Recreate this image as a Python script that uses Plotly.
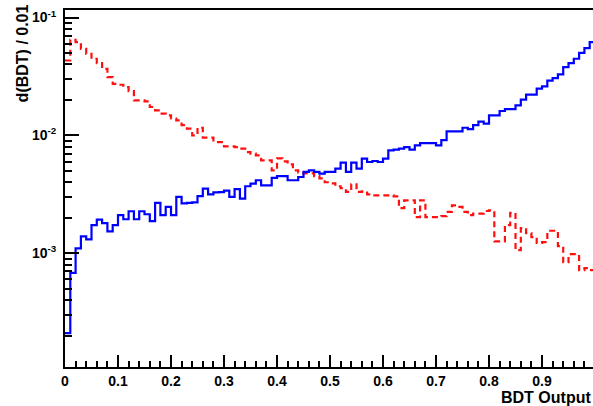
import numpy as np
import plotly.graph_objects as go

# Histogram: 100 bins of width 0.01 on [0, 1]
bin_lo = 0.0
bin_hi = 1.0
n_bins = 100

signal = [
    2.1e-4, 6.8e-4, 1.1e-3, 1.39e-3, 1.31e-3, 1.73e-3, 1.93e-3, 1.8e-3, 1.53e-3, 1.73e-3,
    2.1e-3, 1.94e-3, 2.27e-3, 1.94e-3, 2.27e-3, 2.14e-3, 1.87e-3, 2.67e-3, 2.1e-3, 2.47e-3,
    2.1e-3, 3.0e-3, 2.65e-3, 2.67e-3, 2.7e-3, 3.05e-3, 3.53e-3, 3.16e-3, 3.28e-3, 3.3e-3,
    3.4e-3, 3.0e-3, 3.5e-3, 2.9e-3, 3.7e-3, 3.9e-3, 4.16e-3, 3.77e-3, 3.77e-3, 4.35e-3,
    4.5e-3, 4.5e-3, 4.16e-3, 4.16e-3, 4.43e-3, 4.89e-3, 5.05e-3, 4.89e-3, 4.73e-3, 4.89e-3,
    4.89e-3, 5.22e-3, 5.87e-3, 4.89e-3, 5.87e-3, 5.22e-3, 6.35e-3, 5.94e-3, 6.06e-3, 5.94e-3,
    6.35e-3, 7.46e-3, 7.57e-3, 7.71e-3, 7.95e-3, 7.57e-3, 8.23e-3, 8.6e-3, 8.6e-3, 8.6e-3,
    8.23e-3, 9.1e-3, 1.08e-2, 1.08e-2, 1.08e-2, 1.16e-2, 1.13e-2, 1.22e-2, 1.31e-2, 1.26e-2,
    1.48e-2, 1.48e-2, 1.61e-2, 1.67e-2, 1.67e-2, 1.80e-2, 2.01e-2, 2.22e-2, 2.22e-2, 2.49e-2,
    2.60e-2, 2.92e-2, 3.06e-2, 3.29e-2, 3.79e-2, 4.10e-2, 4.47e-2, 5.02e-2, 5.50e-2, 6.18e-2,
]

background = [
    4.32e-2, 6.47e-2, 6.18e-2, 5.43e-2, 4.92e-2, 4.47e-2, 4.10e-2, 3.67e-2, 3.12e-2, 2.74e-2,
    2.69e-2, 2.57e-2, 2.37e-2, 1.98e-2, 1.98e-2, 1.94e-2, 1.74e-2, 1.63e-2, 1.53e-2, 1.48e-2,
    1.39e-2, 1.34e-2, 1.22e-2, 1.14e-2, 1.0e-2, 1.16e-2, 9.57e-3, 9.57e-3, 8.77e-3, 8.77e-3,
    8.07e-3, 8.07e-3, 7.95e-3, 7.71e-3, 7.22e-3, 7.0e-3, 6.77e-3, 6.14e-3, 6.14e-3, 5.05e-3,
    6.38e-3, 6.02e-3, 5.68e-3, 5.05e-3, 4.86e-3, 4.76e-3, 4.76e-3, 4.5e-3, 4.32e-3, 4.0e-3,
    3.92e-3, 3.70e-3, 3.56e-3, 3.31e-3, 3.84e-3, 3.31e-3, 3.35e-3, 3.16e-3, 3.1e-3, 3.1e-3,
    3.1e-3, 3.1e-3, 3.04e-3, 2.41e-3, 2.81e-3, 2.81e-3, 2.02e-3, 2.81e-3, 2.02e-3, 2.02e-3,
    2.02e-3, 2.06e-3, 2.24e-3, 2.55e-3, 2.47e-3, 2.24e-3, 2.10e-3, 2.17e-3, 2.17e-3, 2.28e-3,
    2.31e-3, 1.26e-3, 1.26e-3, 1.73e-3, 2.2e-3, 1.06e-3, 1.63e-3, 1.48e-3, 1.37e-3, 1.22e-3,
    1.24e-3, 1.55e-3, 1.55e-3, 1.15e-3, 8.39e-4, 9.8e-4, 9.8e-4, 7.18e-4, 7.46e-4, 7.18e-4,
]

y_tick_vals = [1e-3, 1e-2, 1e-1]
y_tick_text = ["10<sup>-3</sup>", "10<sup>-2</sup>", "10<sup>-1</sup>"]
y_minor_vals = [m * d for d in (1e-4, 1e-3, 1e-2) for m in range(2, 10)]

x_title = "BDT Output"
y_title = "d(BDT) / 0.01"

edges = np.linspace(bin_lo, bin_hi, n_bins + 1)


def step(vals):
    return list(edges), list(vals) + [vals[-1]]


FONT = "Liberation Sans, Arial, Helvetica, sans-serif"

fig = go.Figure()
xs, ys = step(background)
fig.add_trace(go.Scatter(x=xs, y=ys, mode="lines", line_shape="hv",
                         line=dict(color="#ff1010", width=2.2, dash="6px,4px"),
                         showlegend=False, hoverinfo="skip"))
xs, ys = step(signal)
fig.add_trace(go.Scatter(x=xs, y=ys, mode="lines", line_shape="hv",
                         line=dict(color="#0000ff", width=2.2),
                         showlegend=False, hoverinfo="skip"))

fig.update_layout(
    width=593, height=406,
    margin=dict(l=65, r=0, t=10, b=39),
    paper_bgcolor="white", plot_bgcolor="white",
    font=dict(family=FONT, color="black", size=14),
    xaxis=dict(
        range=[0, 0.9962], tick0=0, dtick=0.1,
        ticks="inside", ticklen=12, tickwidth=1.5, tickcolor="black",
        minor=dict(dtick=0.02, ticks="inside", ticklen=6, tickwidth=1.5, tickcolor="black", showgrid=False),
        showline=True, linecolor="black", linewidth=2, mirror=True,
        showgrid=False, zeroline=False,
        tickfont=dict(family=FONT, size=14, weight="bold", color="black"),
    ),
    yaxis=dict(
        type="log", range=[-3.966, -0.936],
        tickmode="array", tickvals=y_tick_vals, ticktext=y_tick_text,
        ticks="inside", ticklen=14, tickwidth=1.5, tickcolor="black",
        minor=dict(tickmode="array", tickvals=y_minor_vals, ticks="inside", ticklen=7,
                   tickwidth=1.5, tickcolor="black", showgrid=False),
        showline=True, linecolor="black", linewidth=2, mirror=False,
        showgrid=False, zeroline=False, ticklabelstandoff=4,
        tickfont=dict(family=FONT, size=14, weight="bold", color="black"),
    ),
    annotations=[
        dict(text=x_title, xref="paper", yref="paper", x=1.0, y=-0.055,
             xanchor="right", yanchor="top", showarrow=False,
             font=dict(family=FONT, size=16, weight="bold", color="black")),
        dict(text=y_title, xref="paper", yref="paper", x=-0.081, y=1.022,
             xanchor="center", yanchor="top", textangle=-90, showarrow=False,
             font=dict(family=FONT, size=16, weight="bold", color="black")),
    ],
)

fig.write_html("out.html")
